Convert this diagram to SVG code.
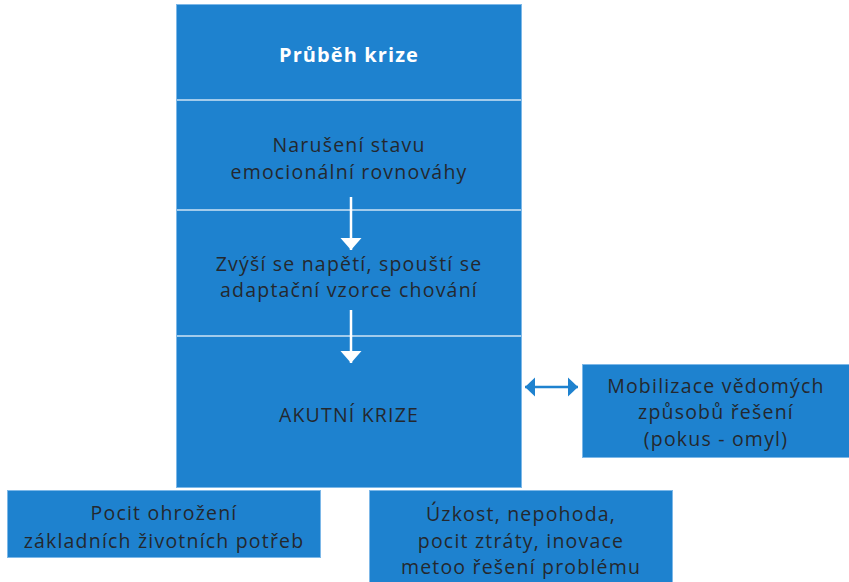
<svg xmlns="http://www.w3.org/2000/svg" width="849" height="582" viewBox="0 0 849 582">
<defs>
<style>
.box{fill:#1e82cf;stroke:#7db8e8;stroke-width:1}
.sep{stroke:#cfe3f5;stroke-width:1.5}
.t{font-family:"Open Sans","Noto Sans","DejaVu Sans",sans-serif;font-size:19.5px;fill:#24282e;text-anchor:middle;letter-spacing:1.2px}
.h{font-family:"Open Sans","Noto Sans","DejaVu Sans",sans-serif;font-size:20px;font-weight:bold;fill:#ffffff;text-anchor:middle;letter-spacing:1.1px}
.wa{stroke:#ffffff;stroke-width:2.5;fill:none}
.ba{stroke:#1e82cf;stroke-width:2.5;fill:none}
</style>
<marker id="wh" viewBox="0 0 10 10" refX="12" refY="5" markerWidth="10" markerHeight="10" markerUnits="userSpaceOnUse" orient="auto" overflow="visible">
<path d="M0,-5.5 L12,5 L0,15.5 Z" fill="#ffffff"/>
</marker>
<marker id="bh" viewBox="0 0 10 10" refX="10" refY="5" markerWidth="10" markerHeight="10" markerUnits="userSpaceOnUse" orient="auto-start-reverse" overflow="visible">
<path d="M0,-4.5 L10,5 L0,14.5 Z" fill="#1e82cf"/>
</marker>
</defs>
<g id="main">
<rect class="box" x="176.5" y="4.5" width="345" height="483"/>
<line class="sep" x1="177" y1="100" x2="521" y2="100"/>
<line class="sep" x1="177" y1="210" x2="521" y2="210"/>
<line class="sep" x1="177" y1="336" x2="521" y2="336"/>
</g>
<g id="title"><text class="h" x="349" y="62">Průběh krize</text></g>
<g id="n1"><text class="t" x="349" y="152">Narušení stavu</text><text class="t" x="349" y="179">emocionální rovnováhy</text></g>
<g id="n2"><text class="t" x="349" y="271">Zvýší se napětí, spouští se</text><text class="t" x="349" y="297">adaptační vzorce chování</text></g>
<g id="n3"><text class="t" x="349" y="422">AKUTNÍ KRIZE</text></g>
<g id="n4">
<rect class="box" x="582.5" y="364.5" width="267" height="93"/>
<text class="t" x="716" y="393">Mobilizace vědomých</text>
<text class="t" x="716" y="419">způsobů řešení</text>
<text class="t" x="716" y="446">(pokus - omyl)</text>
</g>
<g id="n5">
<rect class="box" x="7.5" y="490.5" width="313" height="67"/>
<text class="t" x="164" y="520">Pocit ohrožení</text>
<text class="t" x="164" y="548">základních životních potřeb</text>
</g>
<g id="n6">
<rect class="box" x="369.5" y="490.5" width="303" height="93"/>
<text class="t" x="521" y="521">Úzkost, nepohoda,</text>
<text class="t" x="521" y="548">pocit ztráty, inovace</text>
<text class="t" x="521" y="574">metoo řešení problému</text>
</g>
<g id="connectors">
<line class="wa" x1="351" y1="197" x2="351" y2="250" marker-end="url(#wh)"/>
<line class="wa" x1="351" y1="310" x2="351" y2="363" marker-end="url(#wh)"/>
<line class="ba" x1="525" y1="387" x2="578" y2="387" marker-start="url(#bh)" marker-end="url(#bh)"/>
</g>
</svg>
